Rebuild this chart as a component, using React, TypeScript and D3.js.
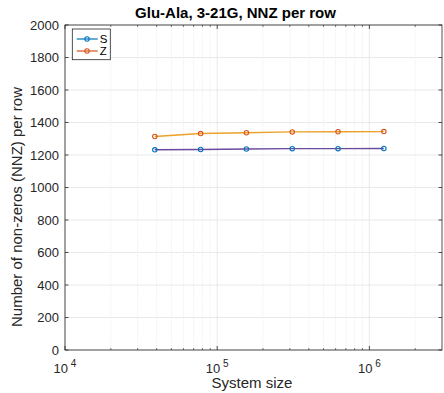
import React from "react";
import * as d3 from "d3";

const sizes = [38900, 77800, 155600, 311200, 622400, 1244800];
const sValues = [1232, 1234, 1237, 1239, 1239, 1240];
const zValues = [1314, 1332, 1337, 1342, 1343, 1344];
const yTicks = [0, 200, 400, 600, 800, 1000, 1200, 1400, 1600, 1800, 2000];
const xMajor = [1e4, 1e5, 1e6];
const xExps = [4, 5, 6];

const W = 444, H = 393;
const L = 65, R = 442, T = 25, B = 350;
const FONT = "'Liberation Sans', Arial, Helvetica, sans-serif";

export default function App() {
  const x = d3.scaleLog().domain([1e4, 3e6]).range([L, R]);
  const y = d3.scaleLinear().domain([0, 2000]).range([B, T]);
  const minor: number[] = [];
  for (let e = 4; e <= 6; e++) for (let m = 2; m <= 9; m++) { const v = m * Math.pow(10, e); if (v < 3e6) minor.push(v); }
  const line = d3.line<number>().x((_, i) => x(sizes[i])).y((d) => y(d));
  const series = [
    { vals: sValues, c: "#0072BD", c2: "#6A4BA0", name: "S" },
    { vals: zValues, c: "#D95319", c2: "#EBA12A", name: "Z" },
  ];
  return (
    <svg width={W} height={H} style={{ position: "absolute", left: 0, top: 0, background: "#fff" }} fontFamily={FONT}>
      <rect x={0} y={0} width={W} height={H} fill="#fff" />
      {minor.map((v) => (
        <line key={"m" + v} x1={x(v)} x2={x(v)} y1={T} y2={B} stroke="#dcdcdc" strokeWidth={0.6} strokeDasharray="1,1.5" />
      ))}
      {xMajor.map((v) => (
        <line key={"g" + v} x1={x(v)} x2={x(v)} y1={T} y2={B} stroke="#e3e3e3" strokeWidth={0.8} />
      ))}
      {yTicks.map((v) => (
        <line key={"y" + v} x1={L} x2={R} y1={y(v)} y2={y(v)} stroke="#e3e3e3" strokeWidth={0.8} />
      ))}
      {series.map((s) => (
        <g key={s.name}>
          <path d={line(s.vals) || ""} fill="none" stroke={s.c2} strokeWidth={1.4} />
          {s.vals.map((v, i) => (
            <circle key={i} cx={x(sizes[i])} cy={y(v)} r={2.2} fill="none" stroke={s.c} strokeWidth={1.1} />
          ))}
        </g>
      ))}
      <rect x={L} y={T} width={R - L} height={B - T} fill="none" stroke="#262626" strokeWidth={0.8} />
      {yTicks.map((v) => (
        <g key={"t" + v}>
          <line x1={L} x2={L + 3.5} y1={y(v)} y2={y(v)} stroke="#262626" strokeWidth={0.8} />
          <line x1={R} x2={R - 3.5} y1={y(v)} y2={y(v)} stroke="#262626" strokeWidth={0.8} />
          <text x={L - 6} y={y(v)} dy="0.35em" textAnchor="end" fontSize={13} fill="#262626">{v}</text>
        </g>
      ))}
      {xMajor.map((v) => (
        <g key={"xt" + v}>
          <line x1={x(v)} x2={x(v)} y1={B} y2={B - 4} stroke="#262626" strokeWidth={0.8} />
          <line x1={x(v)} x2={x(v)} y1={T} y2={T + 4} stroke="#262626" strokeWidth={0.8} />
        </g>
      ))}
      {minor.map((v) => (
        <g key={"xm" + v}>
          <line x1={x(v)} x2={x(v)} y1={B} y2={B - 2} stroke="#262626" strokeWidth={0.6} />
          <line x1={x(v)} x2={x(v)} y1={T} y2={T + 2} stroke="#262626" strokeWidth={0.6} />
        </g>
      ))}
      {xMajor.map((v, i) => (
        <text key={"xl" + v} x={x(v)} y={372.5} textAnchor="middle" fontSize={13} fill="#262626">
          10<tspan dy={-6} fontSize={10}> {xExps[i]}</tspan>
        </text>
      ))}
      <text x={252} y={388} textAnchor="middle" fontSize={15} fill="#262626">System size</text>
      <text transform={`translate(22,${207}) rotate(-90)`} textAnchor="middle" fontSize={15} fill="#262626">
        Number of non-zeros (NNZ) per row
      </text>
      <text x={235.5} y={18} textAnchor="middle" fontSize={15} fontWeight="bold" fill="#000">Glu-Ala, 3-21G, NNZ per row</text>
      <rect x={72.3} y={29} width={38} height={30.7} fill="#fff" stroke="#262626" strokeWidth={0.8} />
      {series.map((s, i) => (
        <g key={"lg" + s.name}>
          <line x1={76.7} x2={97.7} y1={39 + i * 12} y2={39 + i * 12} stroke={s.c} strokeWidth={1.2} />
          <circle cx={87} cy={39 + i * 12} r={2.2} fill="none" stroke={s.c} strokeWidth={1.1} />
          <text x={99.7} y={39 + i * 12} dy="0.36em" fontSize={11.5} fill="#000">{s.name}</text>
        </g>
      ))}
    </svg>
  );
}
